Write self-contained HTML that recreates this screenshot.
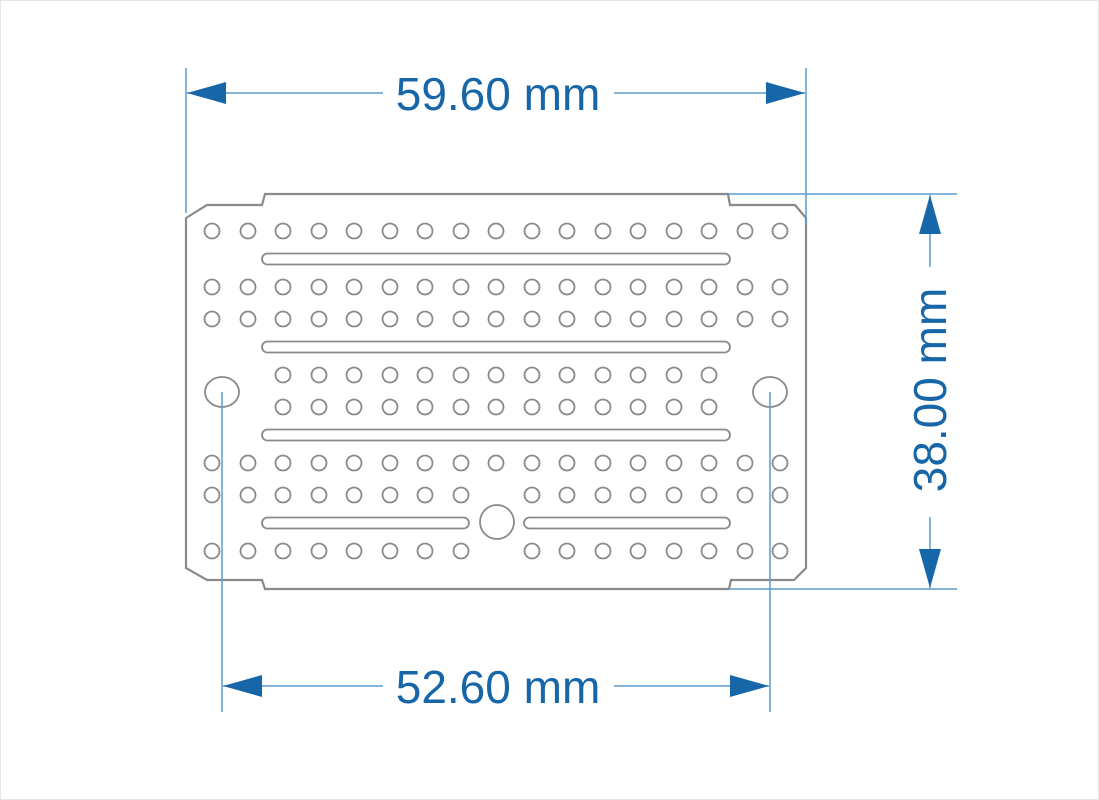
<!DOCTYPE html>
<html><head><meta charset="utf-8"><style>
html,body{margin:0;padding:0;background:#fff;}
svg{display:block}
text{font-family:"Liberation Sans",sans-serif;font-size:46px;fill:#1666a8}
</style></head><body>
<svg id="s" width="1099" height="800" viewBox="0 0 1099 800" xmlns="http://www.w3.org/2000/svg">
<rect x="0.5" y="0.5" width="1098" height="799" fill="#fff" stroke="#e6e6e6"/>
<g fill="#fff" stroke="#8a8a8a" stroke-width="2.2">
<path d="M186,218 L207,205 L262,205 L265,194 L728,194 L730,205 L795,205 L806,218 L806,568 L794,580 L731,580 L729,589 L265,589 L262,580 L207,580 L186,568 Z"/>
</g>
<g id="holes" fill="#fff" stroke="#8a8a8a" stroke-width="1.8"></g>
<g stroke="#5b9bd0" stroke-width="1.5" fill="none">
<line x1="186" y1="68" x2="186" y2="213"/>
<line x1="806" y1="68" x2="806" y2="225"/>
<line x1="187" y1="93" x2="383" y2="93"/>
<line x1="614" y1="93" x2="805" y2="93"/>
<line x1="728" y1="194" x2="957" y2="194"/>
<line x1="730" y1="589" x2="957" y2="589"/>
<line x1="930" y1="195" x2="930" y2="267"/>
<line x1="930" y1="517" x2="930" y2="588"/>
<line x1="222" y1="392" x2="222" y2="712"/>
<line x1="770" y1="392" x2="770" y2="712"/>
<line x1="223" y1="686" x2="383" y2="686"/>
<line x1="614" y1="686" x2="769" y2="686"/>
</g>
<g fill="#1666a8">
<polygon points="187,93 226,82 226,104"/>
<polygon points="805,93 766,82 766,104"/>
<polygon points="930,195 919,234 941,234"/>
<polygon points="930,588 919,549 941,549"/>
<polygon points="223,686 262,675 262,697"/>
<polygon points="769,686 730,675 730,697"/>
</g>
<text x="498" y="110" text-anchor="middle">59.60 mm</text>
<text x="498" y="703" text-anchor="middle">52.60 mm</text>
<text x="0" y="0" text-anchor="middle" transform="translate(946,390) rotate(-90)">38.00 mm</text>
</svg>
<script>
var g=document.getElementById('holes'),ns='http://www.w3.org/2000/svg';
var xs=[212,248,283,319,354,390,425,461,496,532,567,603,638,674,709,745,780];
function c(x,y,r){var e=document.createElementNS(ns,'circle');e.setAttribute('cx',x);e.setAttribute('cy',y);e.setAttribute('r',r);g.appendChild(e);}
function el(x,y,rx,ry){var e=document.createElementNS(ns,'ellipse');e.setAttribute('cx',x);e.setAttribute('cy',y);e.setAttribute('rx',rx);e.setAttribute('ry',ry);g.appendChild(e);}
function sl(x1,x2,y){var e=document.createElementNS(ns,'rect');e.setAttribute('x',x1);e.setAttribute('y',y-5.5);e.setAttribute('width',x2-x1);e.setAttribute('height',11);e.setAttribute('rx',5.5);g.appendChild(e);}
[231,287,319,463].forEach(function(y){xs.forEach(function(x){c(x,y,7.5);});});
[375,407].forEach(function(y){for(var i=2;i<=14;i++)c(xs[i],y,7.5);});
[495,551].forEach(function(y){xs.forEach(function(x,i){if(i!=8)c(x,y,7.5);});});
sl(262,730,259);sl(262,730,347);sl(262,730,435);sl(262,469,523);sl(524,730,523);
c(497,522,17);el(222,392,17,15);el(770,392,17,15);
</script>
</body></html>
